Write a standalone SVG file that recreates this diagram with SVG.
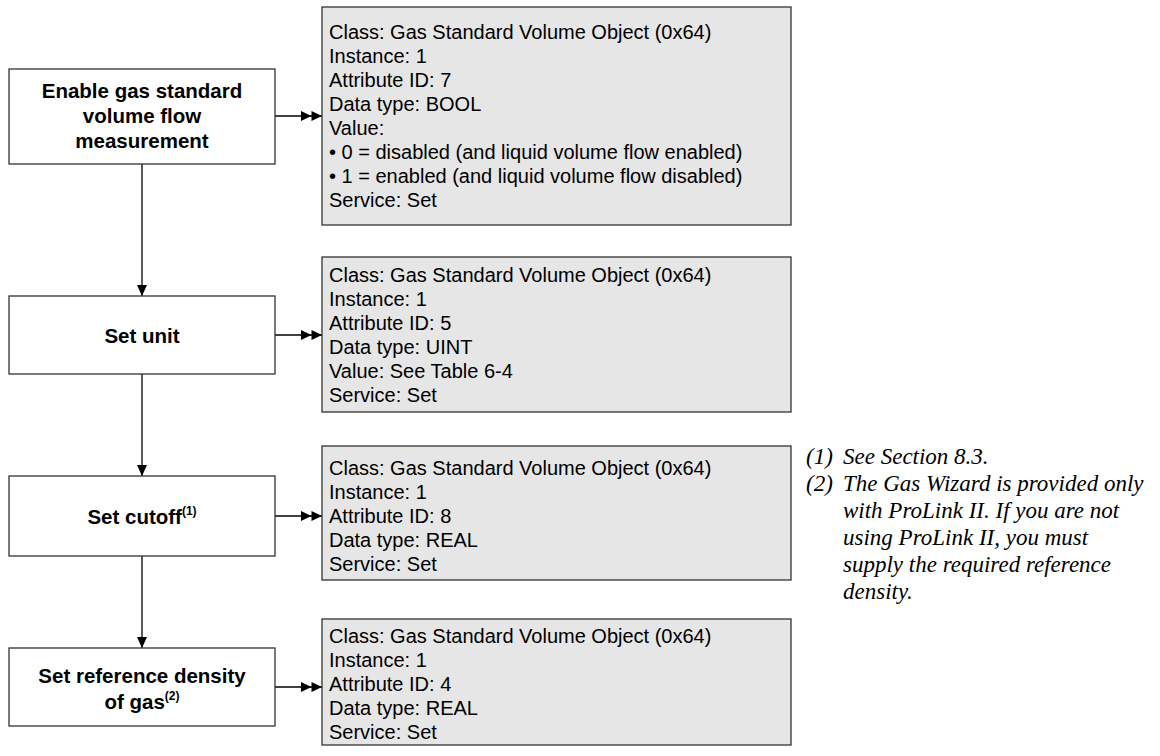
<svg xmlns="http://www.w3.org/2000/svg" width="1160" height="756" viewBox="0 0 1160 756">
  <defs>
    <style>
      .step { fill: #ffffff; stroke: #333333; stroke-width: 1.3; }
      .info { fill: #e6e6e6; stroke: #333333; stroke-width: 1.3; }
      .stepText { font-family: "Liberation Sans", Arial, sans-serif; font-weight: bold; font-size: 20.5px; fill: #000; text-anchor: middle; }
      .sup { font-size: 12px; }
      .infoText { font-family: "Liberation Sans", Arial, sans-serif; font-size: 20px; fill: #000; }
      .note { font-family: "Liberation Serif", "Times New Roman", serif; font-style: italic; font-size: 23px; fill: #000; }
      .wire { stroke: #000; stroke-width: 1.3; fill: none; }
      .head { fill: #000; }
    </style>
    <marker id="arrowDown" markerWidth="11" markerHeight="10" refX="11" refY="5" orient="auto" markerUnits="userSpaceOnUse">
      <path d="M0,0 L11,5 L0,10 Z" class="head"/>
    </marker>
    <marker id="arrowDouble" markerWidth="21" markerHeight="10" refX="21" refY="5" orient="auto" markerUnits="userSpaceOnUse">
      <path d="M0,0 L10.5,5 L0,10 Z M10.5,0 L21,5 L10.5,10 Z" class="head"/>
    </marker>
  </defs>

  <!-- connectors -->
  <g id="connectors">
    <line class="wire" x1="142" y1="164" x2="142" y2="296" marker-end="url(#arrowDown)"/>
    <line class="wire" x1="142" y1="374" x2="142" y2="476" marker-end="url(#arrowDown)"/>
    <line class="wire" x1="142" y1="556" x2="142" y2="648" marker-end="url(#arrowDown)"/>
    <line class="wire" x1="275" y1="116" x2="322" y2="116" marker-end="url(#arrowDouble)"/>
    <line class="wire" x1="275" y1="335" x2="322" y2="335" marker-end="url(#arrowDouble)"/>
    <line class="wire" x1="275" y1="516" x2="322" y2="516" marker-end="url(#arrowDouble)"/>
    <line class="wire" x1="275" y1="687" x2="322" y2="687" marker-end="url(#arrowDouble)"/>
  </g>

  <!-- step 1 -->
  <g id="step-enable">
    <rect class="step" x="9" y="69" width="266" height="95"/>
    <text class="stepText" x="142" y="97.5">Enable gas standard</text>
    <text class="stepText" x="142" y="122.5">volume flow</text>
    <text class="stepText" x="142" y="147.5">measurement</text>
  </g>
  <g id="info-enable">
    <rect class="info" x="322" y="7" width="469" height="218"/>
    <text class="infoText" x="329" y="39">
      <tspan x="329" dy="0">Class: Gas Standard Volume Object (0x64)</tspan>
      <tspan x="329" dy="24">Instance: 1</tspan>
      <tspan x="329" dy="24">Attribute ID: 7</tspan>
      <tspan x="329" dy="24">Data type: BOOL</tspan>
      <tspan x="329" dy="24">Value:</tspan>
      <tspan x="329" dy="24">• 0 = disabled (and liquid volume flow enabled)</tspan>
      <tspan x="329" dy="24">• 1 = enabled (and liquid volume flow disabled)</tspan>
      <tspan x="329" dy="24">Service: Set</tspan>
    </text>
  </g>

  <!-- step 2 -->
  <g id="step-unit">
    <rect class="step" x="9" y="296" width="266" height="78"/>
    <text class="stepText" x="142" y="342.5">Set unit</text>
  </g>
  <g id="info-unit">
    <rect class="info" x="322" y="257" width="469" height="155"/>
    <text class="infoText" x="329" y="282">
      <tspan x="329" dy="0">Class: Gas Standard Volume Object (0x64)</tspan>
      <tspan x="329" dy="24">Instance: 1</tspan>
      <tspan x="329" dy="24">Attribute ID: 5</tspan>
      <tspan x="329" dy="24">Data type: UINT</tspan>
      <tspan x="329" dy="24">Value: See Table 6-4</tspan>
      <tspan x="329" dy="24">Service: Set</tspan>
    </text>
  </g>

  <!-- step 3 -->
  <g id="step-cutoff">
    <rect class="step" x="9" y="476" width="266" height="80"/>
    <text class="stepText" x="142" y="523.5">Set cutoff<tspan class="sup" dy="-9">(1)</tspan></text>
  </g>
  <g id="info-cutoff">
    <rect class="info" x="322" y="446" width="469" height="134"/>
    <text class="infoText" x="329" y="475">
      <tspan x="329" dy="0">Class: Gas Standard Volume Object (0x64)</tspan>
      <tspan x="329" dy="24">Instance: 1</tspan>
      <tspan x="329" dy="24">Attribute ID: 8</tspan>
      <tspan x="329" dy="24">Data type: REAL</tspan>
      <tspan x="329" dy="24">Service: Set</tspan>
    </text>
  </g>

  <!-- step 4 -->
  <g id="step-density">
    <rect class="step" x="9" y="648" width="266" height="78"/>
    <text class="stepText" x="142" y="682.5">Set reference density</text>
    <text class="stepText" x="142" y="709">of gas<tspan class="sup" dy="-9">(2)</tspan></text>
  </g>
  <g id="info-density">
    <rect class="info" x="322" y="619" width="469" height="126"/>
    <text class="infoText" x="329" y="643">
      <tspan x="329" dy="0">Class: Gas Standard Volume Object (0x64)</tspan>
      <tspan x="329" dy="24">Instance: 1</tspan>
      <tspan x="329" dy="24">Attribute ID: 4</tspan>
      <tspan x="329" dy="24">Data type: REAL</tspan>
      <tspan x="329" dy="24">Service: Set</tspan>
    </text>
  </g>

  <!-- footnotes -->
  <g id="notes">
    <text class="note" x="806" y="464">(1)</text>
    <text class="note" x="843" y="464">See Section 8.3.</text>
    <text class="note" x="806" y="491">(2)</text>
    <text class="note" x="843" y="491">The Gas Wizard is provided only</text>
    <text class="note" x="843" y="518">with ProLink II. If you are not</text>
    <text class="note" x="843" y="545">using ProLink II, you must</text>
    <text class="note" x="843" y="572">supply the required reference</text>
    <text class="note" x="843" y="599">density.</text>
  </g>
</svg>
